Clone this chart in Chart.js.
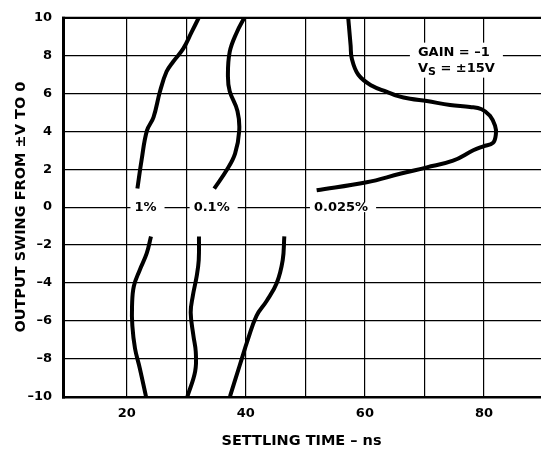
<!DOCTYPE html>
<html><head><meta charset="utf-8">
<script src="https://cdn.jsdelivr.net/npm/chart.js@4.4.0/dist/chart.umd.min.js"></script>
<style>html,body{margin:0;padding:0;background:#fff;overflow:hidden}</style>
</head><body>
<canvas id="c" width="541" height="451"></canvas>
<script>
// ---- data (settling time in ns vs output swing in V) ----
const xGridValues = [20, 30, 40, 50, 60, 70, 80];
const xTickLabels = [20, 40, 60, 80];
const yTickValues = [-10, -8, -6, -4, -2, 0, 2, 4, 6, 8, 10];
const seriesNames = ['1%', '0.1%', '0.025%'];

const pct1UpperTime  = [21.8, 22.5, 23.4, 24.5, 25.6, 26.7, 27.8, 29.5, 30.9, 32.1];
const pct1UpperSwing = [0.98, 2.48, 4.04, 4.74, 6.12, 7.16, 7.68, 8.37, 9.24, 10.0];
const pct1LowerTime  = [24.08, 23.36, 22.2, 21.2, 20.9, 20.95, 21.4, 22.2, 23.24];
const pct1LowerSwing = [-1.55, -2.45, -3.32, -4.18, -5.22, -6.26, -7.47, -8.51, -10.0];

const pct01UpperTime  = [34.7, 36.8, 38.2, 38.9, 38.6, 37.3, 37.0, 37.3, 38.5, 39.75];
const pct01UpperSwing = [0.98, 1.96, 2.83, 4.04, 5.08, 6.12, 6.9, 8.2, 9.24, 10.0];
const pct01LowerTime  = [32.14, 32.1, 31.75, 31.1, 30.75, 31.2, 31.6, 31.5, 30.2];
const pct01LowerSwing = [-1.55, -2.8, -3.66, -4.7, -5.57, -6.78, -7.64, -8.68, -10.0];

const pct0025UpperTime  = [51.9, 60.3, 65.9, 70.4, 74.8, 78.2, 79.9, 81.5, 82.0, 81.85, 81.0, 79.6, 77.65, 74.3, 70.4, 67.6, 65.6, 63.7, 61.1, 58.9, 57.8, 57.6, 57.2];
const pct0025UpperSwing = [0.89, 1.31, 1.76, 2.10, 2.45, 3.0, 3.21, 3.39, 3.87, 4.30, 4.82, 5.17, 5.29, 5.39, 5.60, 5.72, 5.86, 6.09, 6.42, 6.99, 7.85, 8.55, 10.0];
const pct0025LowerTime  = [46.47, 46.2, 45.2, 43.5, 41.8, 40.4, 39.0, 37.35];
const pct0025LowerSwing = [-1.55, -2.8, -4.01, -4.96, -5.74, -6.95, -8.34, -10.0];

const annotationLines = ['GAIN = \u20131', 'V', 'S', ' = \u00B115V'];

// ---- build ----
const FONT = "'DejaVu Sans', 'Liberation Sans', Arial, sans-serif";
function pts(xs, ys) { return xs.map((x, i) => ({x: x, y: ys[i]})); }
function curve(xs, ys) {
  return {
    data: pts(xs, ys), showLine: true, borderColor: '#000', borderWidth: 4,
    pointRadius: 0, pointHoverRadius: 0, tension: 0.4, fill: false,
    borderCapStyle: 'butt', borderJoinStyle: 'round'
  };
}

const overlayPlugin = {
  id: 'overlay',
  beforeDatasetsDraw(chart) {
    const ctx = chart.ctx, xs = chart.scales.x, ys = chart.scales.y;
    ctx.save();
    ctx.font = "bold 13px " + FONT;
    ctx.textBaseline = 'middle';
    ctx.textAlign = 'center';
    const labelTimes = [23.16, 34.27, 55.99];
    const y0 = ys.getPixelForValue(0);
    seriesNames.forEach((name, i) => {
      const cx = xs.getPixelForValue(labelTimes[i]);
      const w = ctx.measureText(name).width;
      ctx.fillStyle = '#fff';
      ctx.fillRect(cx - w / 2 - 4, y0 - 5, w + 12, 10);
      ctx.fillStyle = '#000';
      ctx.fillText(name, cx, y0 + 0.5);
    });
    // annotation box
    const ax = xs.getPixelForValue(68.9);
    const ay = ys.getPixelForValue(8);
    ctx.fillStyle = '#fff';
    ctx.fillRect(ax - 8, ay - 13, 93, 35);
    ctx.fillStyle = '#000';
    ctx.textAlign = 'left';
    ctx.textBaseline = 'alphabetic';
    ctx.fillText(annotationLines[0], ax, ay);
    let x2 = ax;
    const b2 = ay + 16.6;
    ctx.fillText(annotationLines[1], x2, b2);
    x2 += ctx.measureText(annotationLines[1]).width;
    ctx.font = "bold 11px " + FONT;
    ctx.fillText(annotationLines[2], x2, b2 + 3);
    x2 += ctx.measureText(annotationLines[2]).width;
    ctx.font = "bold 13px " + FONT;
    ctx.fillText(annotationLines[3], x2, b2);
    ctx.restore();
  },
  afterDraw(chart) {
    const ctx = chart.ctx, a = chart.chartArea;
    ctx.save();
    ctx.strokeStyle = '#000';
    ctx.lineCap = 'butt';
    ctx.lineWidth = 2.2;
    ctx.beginPath(); ctx.moveTo(a.left, a.top); ctx.lineTo(a.right, a.top); ctx.stroke();
    ctx.beginPath(); ctx.moveTo(a.left, a.bottom + 1); ctx.lineTo(a.right, a.bottom + 1); ctx.stroke();
    ctx.lineWidth = 3;
    ctx.beginPath(); ctx.moveTo(a.left + 1.5, a.top - 1); ctx.lineTo(a.left + 1.5, a.bottom + 2); ctx.stroke();
    ctx.restore();
  }
};

new Chart(document.getElementById('c'), {
  type: 'scatter',
  data: {
    datasets: [
      curve(pct1UpperTime, pct1UpperSwing),
      curve(pct1LowerTime, pct1LowerSwing),
      curve(pct01UpperTime, pct01UpperSwing),
      curve(pct01LowerTime, pct01LowerSwing),
      curve(pct0025UpperTime, pct0025UpperSwing),
      curve(pct0025LowerTime, pct0025LowerSwing)
    ]
  },
  options: {
    responsive: false,
    animation: false,
    layout: {padding: {top: 12.6, right: 0, left: 0, bottom: 0}},
    plugins: {legend: {display: false}, tooltip: {enabled: false}},
    scales: {
      x: {
        type: 'linear', min: 9.14, max: 89.57,
        afterBuildTicks: s => { s.ticks = xGridValues.map(v => ({value: v})); },
        afterFit: s => { s.height = 54.6; },
        grid: {color: '#000', lineWidth: 1.2, drawTicks: false},
        border: {display: false},
        ticks: {
          autoSkip: false, maxRotation: 0, padding: 9, color: '#000',
          font: {family: FONT, size: 13, weight: 'bold'},
          callback: v => xTickLabels.includes(v) ? String(v) : ''
        },
        title: {
          display: true, text: 'SETTLING TIME \u2013 ns', color: '#000',
          font: {family: FONT, size: 14.5, weight: 'bold', lineHeight: 1.2},
          padding: {top: 0, bottom: 1.3}
        }
      },
      y: {
        type: 'linear', min: -10, max: 10,
        afterBuildTicks: s => { s.ticks = yTickValues.map(v => ({value: v})); },
        afterFit: s => { s.width = 62; },
        grid: {color: '#000', lineWidth: 1.2, drawTicks: false},
        border: {display: false},
        ticks: {
          autoSkip: false, padding: 10, color: '#000',
          font: {family: FONT, size: 13, weight: 'bold'},
          callback: v => v < 0 ? '\u2013' + Math.abs(v) : String(v)
        },
        title: {
          display: true, text: 'OUTPUT SWING FROM \u00B1V TO 0', color: '#000',
          font: {family: FONT, size: 14.5, weight: 'bold', lineHeight: 1.2},
          padding: {top: 13, bottom: 0}
        }
      }
    }
  },
  plugins: [overlayPlugin]
});
</script>
</body></html>
